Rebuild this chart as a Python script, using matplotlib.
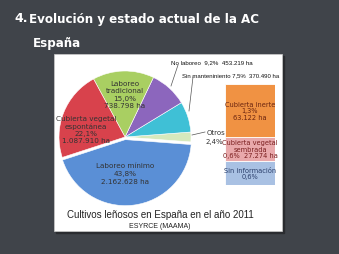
import numpy as np
import matplotlib
matplotlib.use("Agg")
import matplotlib.pyplot as plt
from matplotlib.patches import Rectangle, ConnectionPatch

# pie data (counterclockwise from the right)
labels = ["Otros", "Sin mantenimiento", "No laboreo", "Laboreo tradicional",
          "Cubierta vegetal espontánea", "Laboreo mínimo"]
shares = [2.4, 7.5, 9.2, 15.0, 22.1, 43.8]
colors = ["#d6e9bd", "#3fc0d6", "#8c66bd", "#a9cf62", "#d8424c", "#5a8fd6"]

# "Otros" breakdown (bottom to top)
otros_labels = ["Sin información", "Cubierta vegetal sembrada", "Cubierta inerte"]
otros_shares = [0.6, 0.6, 1.3]
otros_colors = ["#a9c1e3", "#e9a9ab", "#f09243"]

W, H = 339, 255
fig = plt.figure(figsize=(W / 100, H / 100), dpi=100)
fig.patch.set_facecolor("#40444a")

bg = fig.add_axes([0, 0, 1, 1])
bg.set_xlim(0, W)
bg.set_ylim(H, 0)
bg.axis("off")
bg.set_zorder(1)

# white panel with shadow
bg.add_patch(Rectangle((56, 57), 228, 177, color="#2a2c30", zorder=1))
bg.add_patch(Rectangle((54, 55), 228, 177, color="white", ec="#cccccc", lw=0.5, zorder=2))

# headings
bg.text(14, 19, "4.", color="white", fontsize=9, fontweight="bold", va="center")
bg.text(29, 19, "Evolución y estado actual de la AC", color="white", fontsize=8.6,
        fontweight="bold", va="center")
bg.text(33, 44, "España", color="white", fontsize=8.6, fontweight="bold", va="center")

# pie
cx, cy, r = 125, 138, 66
axp = fig.add_axes([(cx - r) / W, (H - cy - r) / H, 2 * r / W, 2 * r / H])
explode = [0, 0, 0, 0, 0, 0.04]
wedges, _ = axp.pie(shares, colors=colors, startangle=-4.3, counterclock=True,
                    explode=explode, wedgeprops=dict(ec="white", lw=0.4))
axp.set_xlim(-1, 1)
axp.set_ylim(-1, 1)
axp.axis("off")
for w in wedges:
    w.set_clip_on(False)
axp.set_zorder(2)

# stacked box for Otros
axb = fig.add_axes([225 / W, (H - 186) / H, 50 / W, 101 / H])
bottoms = np.concatenate([[0], np.cumsum(otros_shares)[:-1]])
axb.bar([0] * 3, otros_shares, bottom=bottoms, width=1, color=otros_colors,
        edgecolor="white", lw=0.6)
axb.set_xlim(-0.5, 0.5)
axb.set_ylim(0, sum(otros_shares))
axb.axis("off")
axb.set_zorder(3)

box_text = ["Sin información\n0,6%", "Cubierta vegetal\nsembrada\n0,6%  27.274 ha",
            "Cubierta inerte\n1,3%\n63.122 ha"]
box_tc = ["#2b3f6b", "#7a1f1f", "#6a2410"]
for b, s, t, c in zip(bottoms, otros_shares, box_text, box_tc):
    axb.text(0, b + s / 2, t, ha="center", va="center", fontsize=4.8, color=c,
             linespacing=1.1)

# connectors from Otros slice to the box
otros = wedges[0]
for ang, yb in [(otros.theta2, sum(otros_shares)), (otros.theta1, 0)]:
    t = np.deg2rad(ang)
    con = ConnectionPatch(xyA=(np.cos(t), np.sin(t)), coordsA=axp.transData,
                          xyB=(-0.5, yb), coordsB=axb.transData,
                          color="#777777", lw=0.5)
    fig.add_artist(con)

# overlay for labels
top = fig.add_axes([0, 0, 1, 1])
top.set_xlim(0, W)
top.set_ylim(H, 0)
top.axis("off")
top.patch.set_alpha(0)
top.set_zorder(5)

tc = "#333333"
fs = 5.2
top.text(125, 95, "Laboreo\ntradicional\n15,0%\n738.798 ha", ha="center", va="center",
         fontsize=fs, color=tc, linespacing=1.25)
top.text(86, 130, "Cubierta vegetal\nespontánea\n22,1%\n1.087.910 ha", ha="center", va="center",
         fontsize=fs, color=tc, linespacing=1.25)
top.text(125, 174, "Laboreo mínimo\n43,8%\n2.162.628 ha", ha="center", va="center",
         fontsize=fs, color=tc, linespacing=1.35)

# outside labels with leader lines
top.text(171, 63, "No laboreo  9,2%  453.219 ha", fontsize=4.4, color="#111111",
         va="center", family="Liberation Sans")
top.plot([171, 178], [87, 66], color="#555555", lw=0.5)
top.text(182, 76, "Sin manteniniento 7,5%  370.490 ha", fontsize=4.3, color="#111111",
         va="center", family="Liberation Sans")
top.plot([189, 193], [112, 78], color="#555555", lw=0.5)
top.text(207, 133, "Otros", fontsize=5, color="#333333", va="center")
top.text(206, 142, "2,4%", fontsize=5, color="#333333", va="center")
top.plot([192, 205], [136, 133], color="#555555", lw=0.5)

# captions
top.text(160, 215, "Cultivos leñosos en España en el año 2011", ha="center", va="center",
         fontsize=7, color="#222222", family="Liberation Sans")
top.text(160, 227, "ESYRCE (MAAMA)", ha="center", va="center", fontsize=5,
         color="#222222", family="Liberation Sans")

fig.savefig("out.png", dpi=100, facecolor=fig.get_facecolor())
